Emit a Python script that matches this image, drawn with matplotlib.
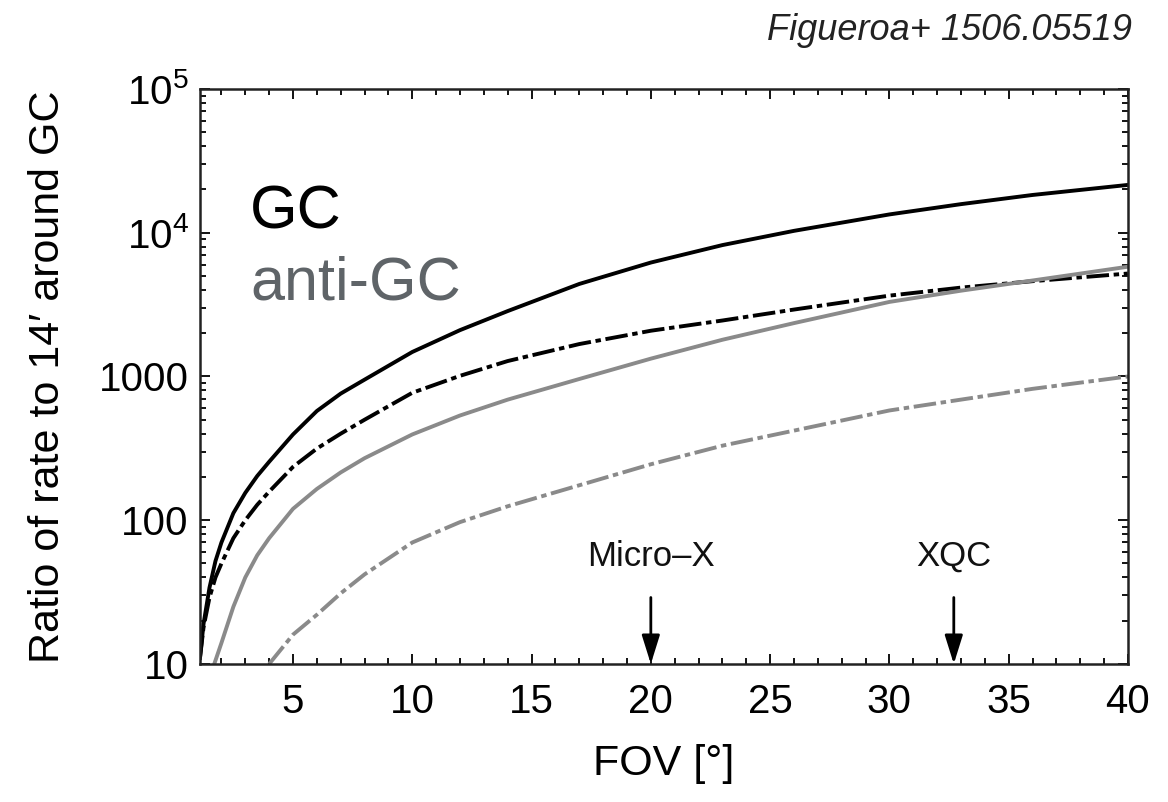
import matplotlib
matplotlib.use('Agg')
from matplotlib import pyplot as plt
from matplotlib.ticker import FixedLocator, FixedFormatter, MultipleLocator, LogLocator, NullFormatter

plt.rcParams['font.family'] = ['Liberation Sans', 'DejaVu Sans']
plt.rcParams['mathtext.fontset'] = 'custom'
plt.rcParams['mathtext.rm'] = 'Liberation Sans'
plt.rcParams['mathtext.it'] = 'Liberation Sans:italic'

# values (FOV in deg, ratio of rate)
fov_gc = [1.1, 1.25, 1.5, 1.75, 2, 2.5, 3, 3.5, 4, 5, 6, 7, 8, 10, 12, 14, 17, 20,
          23, 26, 30, 33, 36, 40]
gc_solid = [11, 19, 34, 52, 70, 112, 155, 203, 255, 395, 575, 760, 950, 1480, 2100,
            2850, 4400, 6200, 8200, 10300, 13400, 15800, 18300, 21500]
gc_dashed = [11, 18, 29, 40, 50, 75, 100, 128, 158, 235, 315, 400, 500, 770, 1010,
             1280, 1680, 2080, 2450, 2920, 3650, 4150, 4600, 5200]

fov_anti = [1.7, 2, 2.5, 3, 3.5, 4, 5, 6, 7, 8, 10, 12, 14, 17, 20, 23, 26, 30, 33, 36, 40]
anti_solid = [10, 14, 25, 40, 57, 75, 120, 165, 215, 270, 395, 535, 690, 960, 1330,
              1800, 2350, 3300, 3950, 4650, 5800]

fov_anti_d = [4, 5, 6, 7, 8, 10, 12, 14, 17, 20, 23, 26, 30, 33, 36, 40]
anti_dashed = [10, 16, 22, 31, 42, 70, 97, 125, 175, 245, 330, 420, 580, 690, 820, 1000]

instruments = ['Micro\u2013X', 'XQC']
instrument_fov = [20, 32.7]

ytick_vals = [10, 100, 1000, 1e4, 1e5]
ytick_labels = ['10', '100', '1000', '$10^4$', '$10^5$']

gray = '#8a8a8a'
dash = (0, (5.8, 1.2, 1.4, 1.2))

fig = plt.figure(figsize=(11.68, 8.02), dpi=100)
ax = fig.add_axes([0.1712, 0.1721, 0.7945, 0.717])

ax.plot(fov_gc, gc_solid, color='black', lw=2.8)
ax.plot(fov_gc, gc_dashed, color='black', lw=2.8, linestyle=dash)
ax.plot(fov_anti, anti_solid, color=gray, lw=2.8)
ax.plot(fov_anti_d, anti_dashed, color=gray, lw=2.8, linestyle=dash)

ax.set_yscale('log')
ax.set_xlim(1.1, 40)
ax.set_ylim(10, 1e5)

ax.xaxis.set_major_locator(FixedLocator([5, 10, 15, 20, 25, 30, 35, 40]))
ax.xaxis.set_minor_locator(MultipleLocator(1))
ax.yaxis.set_major_locator(FixedLocator(ytick_vals))
ax.yaxis.set_major_formatter(FixedFormatter(ytick_labels))
ax.yaxis.set_minor_locator(LogLocator(base=10, subs=range(2, 10)))
ax.yaxis.set_minor_formatter(NullFormatter())

ax.tick_params(which='both', direction='in', top=True, right=True, width=1.3)
ax.tick_params(which='major', length=7, labelsize=29)
ax.tick_params(which='minor', length=4)
ax.tick_params(axis='x', pad=14)
ax.tick_params(axis='y', pad=8)
for s in ax.spines.values():
    s.set_linewidth(1.8)
    s.set_color('#222222')

ax.set_xlabel('FOV [\u00b0]', fontsize=31, labelpad=16)
ax.set_ylabel('Ratio of rate to 14\u2032 around GC', fontsize=31, labelpad=22)

# instrument markers
for name, fv in zip(instruments, instrument_fov):
    ax.annotate('', xy=(fv, 10), xytext=(fv, 29),
                arrowprops=dict(arrowstyle='-|>,head_length=0.8,head_width=0.25',
                                color='black', lw=2, mutation_scale=22,
                                shrinkA=0, shrinkB=0))
    ax.text(fv, 56, name, ha='center', va='center', fontsize=25, color='#111111')

ax.text(0.054, 0.758, 'GC', transform=ax.transAxes, fontsize=44,
        color='black', va='baseline')
ax.text(0.054, 0.633, 'anti-GC', transform=ax.transAxes, fontsize=44,
        color='#5f6468', va='baseline')

fig.text(0.969, 0.962, 'Figueroa+ 1506.05519', ha='right', va='center',
         fontsize=26, style='italic', color='#222222')

fig.savefig('out.png', dpi=100)
